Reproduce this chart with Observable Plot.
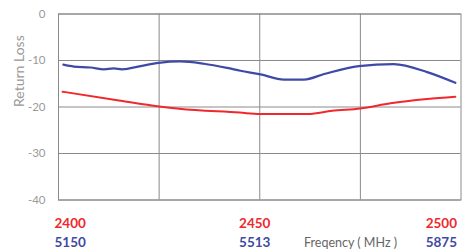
<!DOCTYPE html>
<html><head><meta charset="utf-8">
<script src="https://cdn.jsdelivr.net/npm/d3@7"></script>
<script src="https://cdn.jsdelivr.net/npm/@observablehq/plot@0.6"></script>
<style>body{margin:0;background:#fff}</style>
</head><body><div id="chart"></div>
<script>
// Red series: 2.4 GHz band (x axis in MHz, 2400–2500)
const redFreq = [2401, 2415, 2425, 2430, 2445, 2450, 2462, 2468, 2475, 2482.5, 2491.6, 2498.6];
const redLoss = [-16.7, -18.6, -19.9, -20.4, -21.2, -21.5, -21.5, -20.8, -20.3, -19.2, -18.3, -17.8];
// Blue series: 5 GHz band, plotted on the same horizontal position scale
const blueFreq = [2401.2, 2403.8, 2408, 2411.3, 2413.7, 2415.8, 2420.4, 2424.9, 2430.3, 2436.1, 2441.9, 2445.2, 2450.2, 2456, 2461, 2466, 2474.6, 2483.3, 2491.6, 2498.6];
const blueLoss = [-10.9, -11.3, -11.5, -11.9, -11.7, -11.9, -11.2, -10.5, -10.2, -10.7, -11.6, -12.2, -13.0, -14.1, -14.1, -12.9, -11.2, -10.8, -12.5, -14.8];
const yTicks = [0, -10, -20, -30, -40];
const xGrid = [2425, 2450, 2475];
const redTickPos = [2400, 2450, 2500];
const redTickLabels = ["2400", "2450", "2500"];
const blueTickLabels = ["5150", "5513", "5875"];
const yLabel = "Return Loss";
const xLabel = "Freqency ( MHz )";

const RED = "#f0282c", BLUE = "#3f4aa6", GRID = "#8a8a8a";
const red = redFreq.map((f, i) => ({f, v: redLoss[i]}));
const blue = blueFreq.map((f, i) => ({f, v: blueLoss[i]}));
const anchors = ["start", "middle", "end"];
const dxs = [-4, -5, -4];
const tickMarks = [];
redTickPos.forEach((p, i) => {
  tickMarks.push(Plot.text([redTickLabels[i]], {x: () => p, frameAnchor: "bottom", dy: 23.5, dx: dxs[i], textAnchor: anchors[i], fill: RED, fontWeight: "bold", fontSize: 13.5, lineAnchor: "middle"}));
  tickMarks.push(Plot.text([blueTickLabels[i]], {x: () => p, frameAnchor: "bottom", dy: 42.5, dx: dxs[i], textAnchor: anchors[i], fill: BLUE, fontWeight: "bold", fontSize: 13.5, lineAnchor: "middle"}));
});

const chart = Plot.plot({
  width: 472, height: 252,
  marginLeft: 58, marginRight: 11.5, marginTop: 13.5, marginBottom: 52.5,
  style: {fontFamily: "Lato, 'Open Sans', sans-serif", background: "#fff"},
  x: {domain: [2400, 2500], axis: null},
  y: {domain: [-40, 0], ticks: yTicks, tickSize: 0, tickPadding: 13, label: null, tickFormat: d => String(d)},
  marks: [
    Plot.ruleY(yTicks, {stroke: GRID, strokeWidth: 1}),
    Plot.ruleX(xGrid, {stroke: GRID, strokeWidth: 1}),
    Plot.frame({stroke: GRID, strokeWidth: 1}),
    Plot.axisY({ticks: yTicks, tickSize: 0, tickPadding: 13, label: null, fontSize: 11.5, color: "#9a9a9a", tickFormat: d => String(d)}),
    Plot.line(red, {x: "f", y: "v", stroke: RED, strokeWidth: 2, curve: "monotone-x"}),
    Plot.line(blue, {x: "f", y: "v", stroke: BLUE, strokeWidth: 2.2, curve: "monotone-x"}),
    ...tickMarks,
    Plot.text([xLabel], {x: () => 2461, frameAnchor: "bottom", dy: 42.5, textAnchor: "start", fill: "#666", fontSize: 12.5, lineAnchor: "middle"}),
    Plot.text([yLabel], {frameAnchor: "left", dx: -39, rotate: -90, fill: "#999", fontSize: 14, lineAnchor: "middle"})
  ]
});
document.getElementById("chart").appendChild(chart);
</script>
</body></html>
